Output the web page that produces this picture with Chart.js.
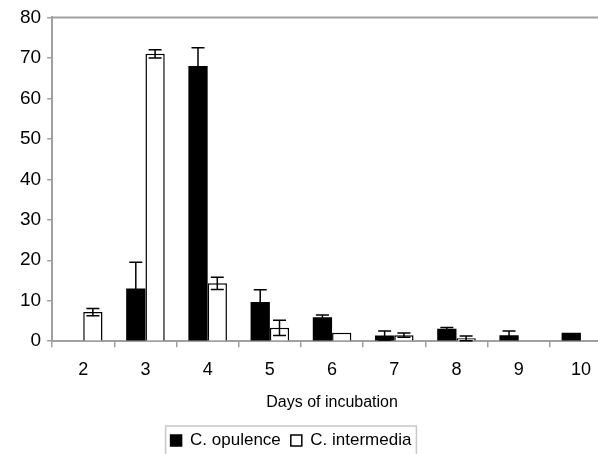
<!DOCTYPE html>
<html>
<head>
<meta charset="utf-8">
<script src="https://cdn.jsdelivr.net/npm/chart.js@4.4.0/dist/chart.umd.min.js"></script>
<style>
    html, body { margin: 0; padding: 0; background: #fff; overflow: hidden; }
    #wrap { width: 612px; height: 462px; }
</style>
</head>
<body>
<div id="wrap"><canvas id="chart"></canvas></div>
<script>
// Days of incubation and values
const days = ['2', '3', '4', '5', '6', '7', '8', '9', '10'];
const opulence = [null, 13, 68, 9.7, 5.9, 1.4, 3.1, 1.5, 2.1];
const opulenceErr = [0, 6.5, 4.5, 3, 0.6, 1.1, 0.3, 1, 0];
const intermedia = [7.2, 71, 14.3, 3.3, 2.1, 1.5, 0.7, null, null];
const intermediaErr = [0.9, 1, 1.5, 1.9, 0, 0.5, 0.6, 0, 0];
const yTicks = [0, 10, 20, 30, 40, 50, 60, 70, 80];

const AXIS = '#a0a0a0';
const FONT = '"Liberation Sans", Arial, sans-serif';

// whiskers + top frame line
const errorBars = {
    id: 'errorBars',
    afterDatasetsDraw(chart) {
        const ctx = chart.ctx;
        const y = chart.scales.y;
        const area = chart.chartArea;

        ctx.save();
        ctx.strokeStyle = AXIS;
        ctx.lineWidth = 2;
        ctx.beginPath();
        ctx.moveTo(area.left, area.top);
        ctx.lineTo(area.right, area.top);
        ctx.stroke();

        ctx.strokeStyle = '#000';
        ctx.lineWidth = 1.5;
        chart.data.datasets.forEach((ds, i) => {
            const meta = chart.getDatasetMeta(i);
            meta.data.forEach((bar, j) => {
                const v = ds.data[j];
                const e = ds.errors[j];
                if (v == null || !e) return;
                const top = y.getPixelForValue(v + e);
                const bottom = y.getPixelForValue(Math.max(0, v - e));
                const half = 6.5;
                ctx.beginPath();
                ctx.moveTo(bar.x, top);
                ctx.lineTo(bar.x, bottom);
                ctx.moveTo(bar.x - half, top);
                ctx.lineTo(bar.x + half, top);
                ctx.moveTo(bar.x - half, bottom);
                ctx.lineTo(bar.x + half, bottom);
                ctx.stroke();
            });
        });
        ctx.restore();
    }
};

// legend sits a bit left of centre, with a frame round it
const legendBox = {
    id: 'legendBox',
    afterLayout(chart) {
        const lg = chart.legend;
        if (!lg) return;
        lg.left -= 22;
        lg.right -= 22;
    },
    afterDraw(chart) {
        const boxes = chart.legend.legendHitBoxes;
        if (!boxes || !boxes.length) return;
        const last = boxes[boxes.length - 1];
        const left = boxes[0].left - 5;
        const right = last.left + last.width + 5;
        const top = boxes[0].top - 6;
        const bottom = boxes[0].top + boxes[0].height + 7;
        const ctx = chart.ctx;
        ctx.save();
        ctx.strokeStyle = '#c8c8c8';
        ctx.lineWidth = 1.5;
        ctx.strokeRect(left, top, right - left, bottom - top);
        ctx.restore();
    }
};

new Chart(document.getElementById('chart'), {
    type: 'bar',
    data: {
        labels: days,
        datasets: [{
            label: 'C. opulence',
            data: opulence,
            errors: opulenceErr,
            backgroundColor: '#000',
            borderColor: '#000',
            borderWidth: 0
        }, {
            label: 'C. intermedia',
            data: intermedia,
            errors: intermediaErr,
            backgroundColor: '#fff',
            borderColor: '#000',
            borderWidth: 1.5
        }]
    },
    options: {
        responsive: true,
        maintainAspectRatio: false,
        animation: false,
        devicePixelRatio: 1,
        layout: { padding: { top: 11, left: 14, right: 0, bottom: 3 } },
        datasets: {
            bar: { categoryPercentage: 0.62, barPercentage: 1 }
        },
        plugins: {
            legend: {
                position: 'bottom',
                labels: {
                    color: '#000',
                    font: { family: FONT, size: 17 },
                    boxWidth: 11,
                    boxHeight: 11,
                    padding: 10,
                    generateLabels(chart) {
                        return chart.data.datasets.map((ds, i) => ({
                            text: ds.label,
                            fillStyle: ds.backgroundColor,
                            strokeStyle: '#000',
                            lineWidth: 1.5,
                            fontColor: '#000',
                            datasetIndex: i,
                            hidden: false
                        }));
                    }
                }
            },
            tooltip: { enabled: false }
        },
        scales: {
            x: {
                grid: {
                    drawOnChartArea: false,
                    drawTicks: true,
                    tickLength: 6,
                    color: AXIS,
                    lineWidth: 1.5
                },
                border: { color: AXIS, width: 2 },
                ticks: {
                    color: '#000',
                    font: { family: FONT, size: 18 },
                    padding: 12
                },
                title: {
                    display: true,
                    text: 'Days of incubation',
                    color: '#000',
                    font: { family: FONT, size: 16 },
                    padding: { top: 0, bottom: 10 }
                }
            },
            y: {
                min: 0,
                max: 80,
                afterBuildTicks(scale) {
                    scale.ticks = yTicks.map(v => ({ value: v }));
                },
                grid: {
                    drawOnChartArea: false,
                    drawTicks: true,
                    tickLength: 5,
                    color: AXIS,
                    lineWidth: 1.5
                },
                border: { color: AXIS, width: 2 },
                ticks: {
                    color: '#000',
                    font: { family: FONT, size: 19 },
                    padding: 6
                }
            }
        }
    },
    plugins: [errorBars, legendBox]
});
</script>
</body>
</html>
